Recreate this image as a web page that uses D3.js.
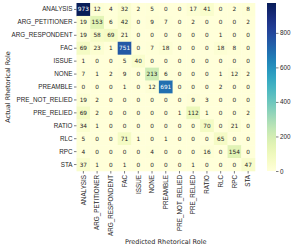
<!DOCTYPE html>
<html>
<head>
<meta charset="utf-8">
<script src="https://cdn.jsdelivr.net/npm/d3@7"></script>
<style>
  body { margin: 0; background: #fff; }
  svg { display: block; font-family: 'DejaVu Sans', sans-serif; }
  .tick text { fill: #262626; }
</style>
</head>
<body>
<svg width="296" height="248"></svg>
<script>
const roles = ['ANALYSIS', 'ARG_PETITIONER', 'ARG_RESPONDENT', 'FAC', 'ISSUE', 'NONE',
  'PREAMBLE', 'PRE_NOT_RELIED', 'PRE_RELIED', 'RATIO', 'RLC', 'RPC', 'STA'];

// rows = actual, columns = predicted
const counts = [
  [973, 12, 4, 32, 2, 5, 0, 0, 17, 41, 0, 2, 8],
  [19, 153, 6, 42, 0, 9, 7, 0, 2, 0, 0, 0, 2],
  [19, 58, 69, 21, 0, 0, 0, 0, 0, 0, 1, 0, 0],
  [69, 23, 1, 751, 0, 7, 18, 0, 0, 0, 18, 8, 0],
  [1, 0, 0, 5, 40, 0, 0, 0, 0, 0, 0, 0, 0],
  [7, 1, 2, 9, 0, 213, 6, 0, 0, 0, 1, 12, 2],
  [0, 0, 0, 1, 0, 12, 691, 0, 0, 0, 2, 0, 0],
  [19, 2, 0, 0, 0, 0, 0, 0, 9, 3, 0, 0, 0],
  [69, 2, 0, 0, 0, 0, 0, 1, 112, 1, 0, 0, 2],
  [34, 1, 0, 0, 0, 0, 0, 0, 0, 70, 0, 21, 0],
  [5, 0, 0, 71, 1, 0, 1, 0, 0, 0, 65, 0, 0],
  [4, 0, 0, 0, 0, 4, 0, 0, 0, 16, 0, 154, 0],
  [37, 1, 0, 1, 0, 0, 0, 0, 1, 0, 0, 0, 47]
];

const colorbarTicks = [0, 200, 400, 600, 800];

const svg = d3.select('svg');
const margin = { top: 3, left: 76.5, right: 41, bottom: 77 };
const width = +svg.attr('width');
const height = +svg.attr('height');
const innerWidth = width - margin.left - margin.right;
const innerHeight = height - margin.top - margin.bottom;

const cells = [];
counts.forEach((row, i) => row.forEach((v, j) => {
  cells.push({ actual: roles[i], predicted: roles[j], value: v });
}));

const vmax = d3.max(cells, d => d.value);
const color = d3.scaleSequential(d3.interpolateYlGnBu).domain([0, vmax]);

const x = d3.scaleBand().domain(roles).range([0, innerWidth]);
const y = d3.scaleBand().domain(roles).range([0, innerHeight]);

const root = svg.append('g')
  .attr('transform', `translate(${margin.left}, ${margin.top})`);

root.selectAll('rect.cell')
  .data(cells)
  .join('rect')
  .attr('class', 'cell')
  .attr('x', d => x(d.predicted))
  .attr('y', d => y(d.actual))
  .attr('width', x.bandwidth() + 0.3)
  .attr('height', y.bandwidth() + 0.3)
  .attr('fill', d => color(d.value));

const textColor = v => {
  const c = d3.rgb(color(v));
  const lin = ch => {
    const s = ch / 255;
    return s <= 0.03928 ? s / 12.92 : Math.pow((s + 0.055) / 1.055, 2.4);
  };
  const lum = 0.2126 * lin(c.r) + 0.7152 * lin(c.g) + 0.0722 * lin(c.b);
  return lum > 0.408 ? '#262626' : '#ffffff';
};

root.selectAll('text.annot')
  .data(cells)
  .join('text')
  .attr('class', 'annot')
  .attr('x', d => x(d.predicted) + x.bandwidth() / 2)
  .attr('y', d => y(d.actual) + y.bandwidth() / 2)
  .attr('text-anchor', 'middle')
  .attr('dominant-baseline', 'central')
  .attr('font-size', 5.8)
  .attr('fill', d => textColor(d.value))
  .text(d => d.value);

// axes
const yAxis = root.append('g')
  .call(d3.axisLeft(y).tickSize(2.5).tickPadding(1.5));
yAxis.select('.domain').remove();
yAxis.selectAll('.tick line').attr('stroke', '#262626').attr('stroke-width', 0.6);
yAxis.selectAll('.tick text').attr('font-size', 6.3);

const xAxis = root.append('g')
  .attr('transform', `translate(0, ${innerHeight})`)
  .call(d3.axisBottom(x).tickSize(2.5).tickPadding(1.5));
xAxis.select('.domain').remove();
xAxis.selectAll('.tick line').attr('stroke', '#262626').attr('stroke-width', 0.6);
xAxis.selectAll('.tick text')
  .attr('font-size', 6.3)
  .attr('text-anchor', 'end')
  .attr('dy', '0.35em')
  .attr('transform', 'rotate(-90) translate(-4, 0)')
  .attr('x', 0)
  .attr('y', 0);

root.append('text')
  .attr('x', innerWidth / 2)
  .attr('y', innerHeight + 73)
  .attr('text-anchor', 'middle')
  .attr('font-size', 6.5)
  .attr('fill', '#262626')
  .text('Predicted Rhetorical Role');

root.append('text')
  .attr('transform', `translate(${-67}, ${innerHeight / 2}) rotate(-90)`)
  .attr('text-anchor', 'middle')
  .attr('font-size', 6.5)
  .attr('fill', '#262626')
  .text('Actual Rhetorical Role');

// colorbar
const cbX = innerWidth + 12;
const cbW = 9;
const cbScale = d3.scaleLinear().domain([0, vmax]).range([innerHeight, 0]);

const defs = svg.append('defs');
const grad = defs.append('linearGradient')
  .attr('id', 'cbar')
  .attr('x1', 0).attr('y1', 1).attr('x2', 0).attr('y2', 0);
d3.range(0, 1.0001, 0.05).forEach(t => {
  grad.append('stop')
    .attr('offset', t)
    .attr('stop-color', color(t * vmax));
});

root.append('rect')
  .attr('x', cbX)
  .attr('y', 0)
  .attr('width', cbW)
  .attr('height', innerHeight)
  .attr('fill', 'url(#cbar)');

const cbAxis = root.append('g')
  .attr('transform', `translate(${cbX + cbW}, 0)`)
  .call(d3.axisRight(cbScale).tickValues(colorbarTicks).tickSize(2.5).tickPadding(1.5));
cbAxis.select('.domain').remove();
cbAxis.selectAll('.tick line').attr('stroke', '#262626').attr('stroke-width', 0.6);
cbAxis.selectAll('.tick text').attr('font-size', 6.3);
</script>
</body>
</html>
